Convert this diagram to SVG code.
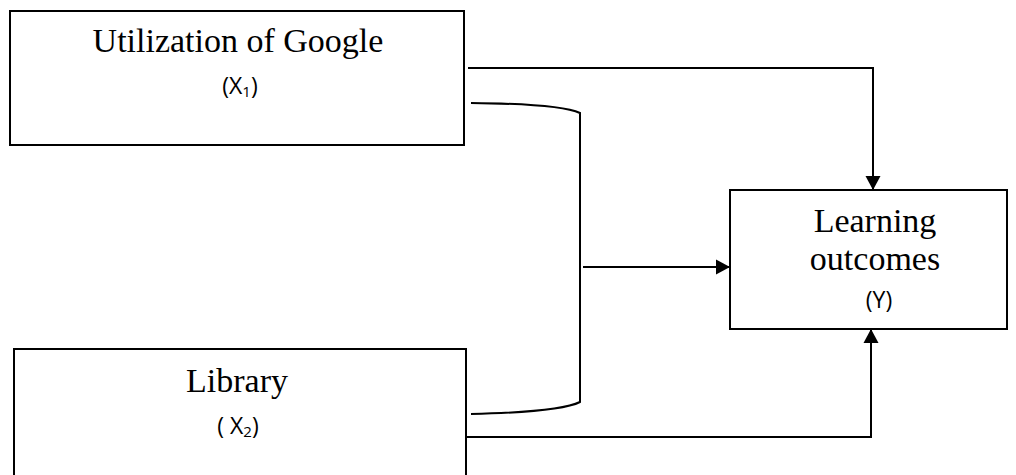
<svg xmlns="http://www.w3.org/2000/svg" width="1016" height="475" viewBox="0 0 1016 475">
<style>
.box{fill:#fff;stroke:#000;stroke-width:2}
.t{font-family:"Liberation Serif","Times New Roman",serif;font-size:34px;fill:#000;text-anchor:middle}
.v{font-family:"Open Sans","Liberation Sans",sans-serif;font-size:23px;fill:#000;text-anchor:middle}
.s{font-size:15px}
.c{fill:none;stroke:#000;stroke-width:2}
</style>
<defs>
<marker id="ah" markerWidth="16" markerHeight="16" refX="14" refY="8" orient="auto" markerUnits="userSpaceOnUse">
<path d="M0,0.5 L14,8 L0,15.5 Z" fill="#000"/>
</marker>
</defs>
<rect width="1016" height="475" fill="#fff"/>
<g id="node-google">
<rect class="box" x="10" y="11" width="454" height="134"/>
<text class="t" x="238" y="52">Utilization of Google</text>
<text class="v" x="240" y="94">(X<tspan class="s" dy="3">1</tspan><tspan dy="-3">)</tspan></text>
</g>
<g id="node-library">
<rect class="box" x="14" y="349" width="452" height="140"/>
<text class="t" x="237" y="392">Library</text>
<text class="v" x="238" y="434">( X<tspan class="s" dy="3">2</tspan><tspan dy="-3">)</tspan></text>
</g>
<g id="node-outcomes">
<rect class="box" x="730" y="190" width="277" height="139"/>
<text class="t" x="875" y="232">Learning</text>
<text class="t" x="875" y="270">outcomes</text>
<text class="v" x="879" y="308">(Y)</text>
</g>
<g id="connectors">
<path class="c" d="M468,68 H873 V190" marker-end="url(#ah)"/>
<path class="c" d="M471,103 Q560,104 580,113 V402 Q560,412 471,414"/>
<path class="c" d="M583,267 H730" marker-end="url(#ah)"/>
<path class="c" d="M466,437 H871 V329" marker-end="url(#ah)"/>
</g>
</svg>
